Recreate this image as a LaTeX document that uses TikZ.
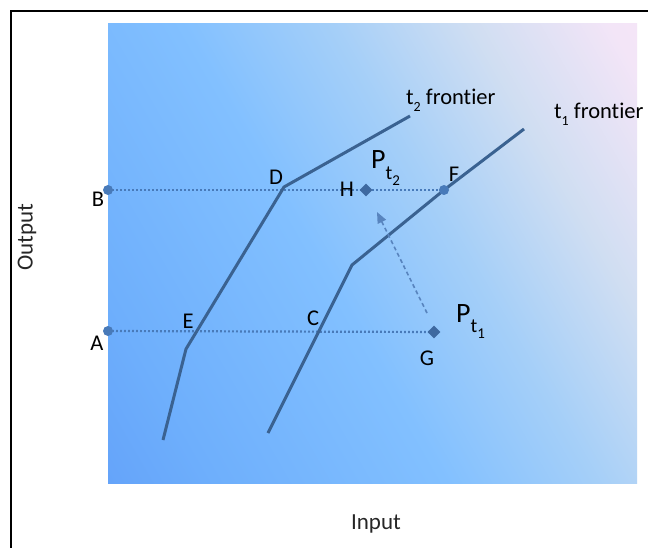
\documentclass[tikz,border=0pt]{standalone}
\usepackage{fontspec}
\setmainfont{Carlito}[Ligatures=NoCommon]
\usetikzlibrary{arrows.meta,shapes.geometric}
\definecolor{lineblue}{RGB}{58,98,145}
\definecolor{dotblue}{RGB}{72,122,185}
\definecolor{markblue}{RGB}{62,105,160}
\definecolor{arrowblue}{RGB}{88,132,190}
\definecolor{gradA}{RGB}{85,145,245}
\definecolor{gradB}{RGB}{110,175,252}
\definecolor{gradC}{RGB}{130,192,255}
\definecolor{gradD}{RGB}{165,207,248}
\definecolor{gradE}{RGB}{208,222,242}
\definecolor{gradF}{RGB}{243,229,247}
\definecolor{gradG}{RGB}{251,230,248}
\pgfdeclareverticalshading{plotshade}{100bp}{color(0bp)=(gradA); color(25bp)=(gradB); color(45bp)=(gradC); color(58bp)=(gradD); color(70bp)=(gradE); color(82bp)=(gradF); color(100bp)=(gradG)}
\newcommand{\lowsub}[3]{#1\raisebox{-0.28em}{\fontsize{#3}{#3}\selectfont #2}}
\begin{document}
\begin{tikzpicture}[x=1pt,y=-1pt,
  lbl/.style={font=\fontsize{22.5}{25}\selectfont, text=black, inner sep=0pt, anchor=base},
  plbl/.style={font=\fontsize{28}{30}\selectfont, text=black, inner sep=0pt, anchor=base west},
  axlbl/.style={font=\fontsize{23}{26}\selectfont, text=black!85, inner sep=0pt},
  frontier/.style={draw=lineblue, line width=3pt, line join=round},
  dotline/.style={draw=dotblue, line width=2.2pt, dash pattern=on 1.8pt off 2.2pt},
  dotmark/.style={circle, fill=dotblue, minimum size=10pt, inner sep=0pt},
  diamark/.style={diamond, fill=markblue, minimum size=13pt, inner sep=0pt},
  movearrow/.style={draw=arrowblue, line width=1.6pt, dash pattern=on 4pt off 3pt, -{Triangle[width=9pt,length=11pt]}}]
\useasboundingbox (0,0) rectangle (648,548);
\fill[white] (0,0) rectangle (648,548);
\draw[line width=1.5pt] (11,11) rectangle (700,600);
\shade[shading=plotshade, shading angle=-60] (108,24) rectangle (637,483);

% coordinates
\coordinate (B) at (108,190);
\coordinate (A) at (108,331);
\coordinate (H) at (366,190);
\coordinate (F) at (444,190);
\coordinate (G) at (434,332);
\coordinate (t2a) at (163,440);
\coordinate (t2b) at (186,349);
\coordinate (D) at (284,187);
\coordinate (t2c) at (410,116);
\coordinate (t1a) at (268,433);
\coordinate (t1b) at (352,265);
\coordinate (t1c) at (524,129);
\coordinate (atail) at (427,313);
\coordinate (atip) at (377,212);

% dotted guide lines
\draw[dotline] (B) -- (F);
\draw[dotline] (A) -- (G);

% frontiers
\draw[frontier] (t2a) -- (t2b) -- (D) -- (t2c);
\draw[frontier] (t1a) -- (t1b) -- (F) -- (t1c);

% movement arrow
\draw[movearrow] (atail) -- (atip);

% markers
\node[dotmark] (Bm) at (B) {};
\node[dotmark] (Am) at (A) {};
\node[dotmark] (Fm) at (F) {};
\node[diamark] (Hm) at (H) {};
\node[diamark] (Gm) at (G) {};

% letter labels
\node[lbl] (Bl) at (98,207) {B};
\node[lbl] (Al) at (97,350) {A};
\node[lbl] (Dl) at (276,185) {D};
\node[lbl] (Hl) at (347,197) {H};
\node[lbl] (Fl) at (454,182) {F};
\node[lbl] (El) at (188,328) {E};
\node[lbl] (Cl) at (313,325) {C};
\node[lbl] (Gl) at (427,365) {G};

% point labels
\node[plbl] (Pt2) at (371,169) {P\raisebox{-0.36em}{\fontsize{20}{20}\selectfont t\raisebox{-0.3em}{\fontsize{15}{15}\selectfont 2}}};
\node[plbl] (Pt1) at (456,322) {P\raisebox{-0.36em}{\fontsize{20}{20}\selectfont t\raisebox{-0.3em}{\fontsize{15}{15}\selectfont 1}}};

% frontier labels
\node[lbl, anchor=base west] (t2l) at (406,105) {\lowsub{t}{2}{14} front\kern0pt ier};
\node[lbl, anchor=base west] (t1l) at (554,119) {\lowsub{t}{1}{14} front\kern0pt ier};

% axis labels
\node[axlbl, rotate=90] (outl) at (27,237) {Output};
\node[axlbl] (inl) at (376,524) {Input};
\end{tikzpicture}
\end{document}
